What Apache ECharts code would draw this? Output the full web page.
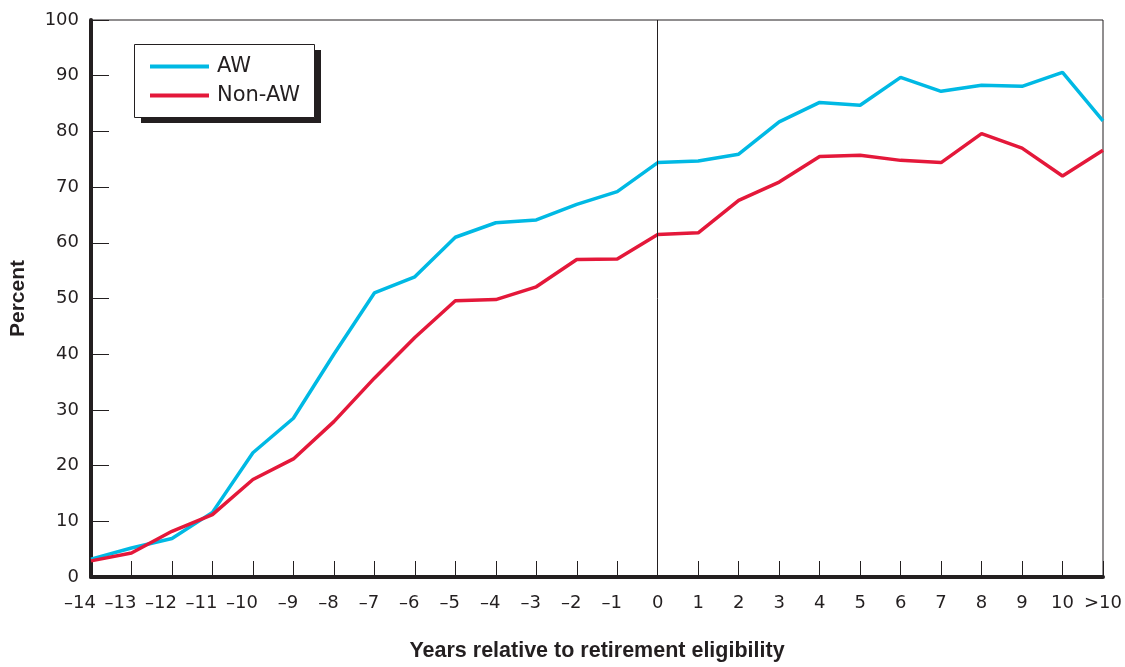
<!DOCTYPE html>
<html>
<head>
<meta charset="utf-8">
<script src="https://cdn.jsdelivr.net/npm/echarts@6/dist/echarts.min.js"></script>
<style>html,body{margin:0;padding:0;background:#fff}#c{width:1125px;height:667px}</style>
</head>
<body>
<div id="c"></div>
<script>
const categories = ['–14','–13','–12','–11','–10','–9','–8','–7','–6','–5','–4','–3','–2','–1','0','1','2','3','4','5','6','7','8','9','10','>10'];
const awValues = [3.2,5.2,6.9,11.6,22.3,28.5,40.0,51.0,53.9,61.0,63.6,64.1,66.9,69.2,74.4,74.7,75.9,81.7,85.2,84.7,89.7,87.2,88.3,88.1,90.6,81.9];
const nonAwValues = [2.9,4.3,8.2,11.2,17.5,21.2,27.9,35.7,43.0,49.6,49.8,52.1,57.0,57.1,61.5,61.8,67.6,70.9,75.5,75.7,74.8,74.4,79.6,77.0,72.0,76.6];
const yTicks = {min:0, max:100, interval:10};
const seriesNames = ['AW','Non-AW'];

const ink = '#231f20';
const tickFont = '"DejaVu Sans", sans-serif';
const titleFont = '"Liberation Sans", Arial, sans-serif';
const chart = echarts.init(document.getElementById('c'), null, {renderer:'canvas'});
chart.setOption({
  animation:false,
  backgroundColor:'#fff',
  grid:{left:91,right:21,top:20,bottom:85,show:true,borderColor:ink,borderWidth:1,backgroundColor:'transparent'},
  graphic:[
    {type:'rect',left:141,top:50,shape:{width:180,height:73},style:{fill:ink},z:1},
    {type:'rect',left:134,top:44,shape:{width:180,height:73},style:{fill:'#fff',stroke:ink,lineWidth:1},z:2}
  ],
  legend:{
    left:150,top:56,orient:'vertical',padding:0,itemGap:8,
    icon:'rect',itemWidth:59,itemHeight:4,
    textStyle:{fontSize:21,lineHeight:21,color:ink,fontFamily:tickFont,padding:[0,0,0,3]},
    data:seriesNames,z:10
  },
  xAxis:{
    type:'category',data:categories,boundaryGap:false,
    axisLine:{lineStyle:{color:ink,width:4}},
    axisTick:{inside:true,length:16,lineStyle:{color:ink,width:1}},
    axisLabel:{fontSize:18,color:ink,fontFamily:tickFont,margin:17,interval:0,
      formatter:function(v){
        if (v.charAt(0)==='–') return v.length>2 ? '{n2|'+v+'}' : '{n1|'+v+'}';
        return v;
      },
      rich:{
        n2:{fontSize:18,color:ink,fontFamily:tickFont,padding:[0,22,0,0]},
        n1:{fontSize:18,color:ink,fontFamily:tickFont,padding:[0,11,0,0]}
      }
    },
    name:'Years relative to retirement eligibility',nameLocation:'middle',nameGap:63,
    nameTextStyle:{fontSize:21.5,fontWeight:'bold',color:ink,fontFamily:titleFont}
  },
  yAxis:{
    type:'value',min:yTicks.min,max:yTicks.max,interval:yTicks.interval,
    axisLine:{show:true,lineStyle:{color:ink,width:4}},
    axisTick:{show:true,inside:true,length:18,lineStyle:{color:ink,width:1}},
    axisLabel:{fontSize:18,color:ink,fontFamily:tickFont,margin:12},
    splitLine:{show:false},
    name:'Percent',nameLocation:'middle',nameGap:62,
    nameTextStyle:{fontSize:21,fontWeight:'bold',color:ink,fontFamily:titleFont}
  },
  series:[
    {name:seriesNames[0],type:'line',data:awValues,showSymbol:false,symbol:'none',
     lineStyle:{color:'#00B9E4',width:3.5},itemStyle:{color:'#00B9E4'},z:3,
     markLine:{silent:true,symbol:'none',label:{show:false},lineStyle:{color:ink,width:1,type:'solid'},data:[{xAxis:'0'}]}},
    {name:seriesNames[1],type:'line',data:nonAwValues,showSymbol:false,symbol:'none',
     lineStyle:{color:'#E4183A',width:3.5},itemStyle:{color:'#E4183A'},z:4}
  ]
});
</script>
</body>
</html>
